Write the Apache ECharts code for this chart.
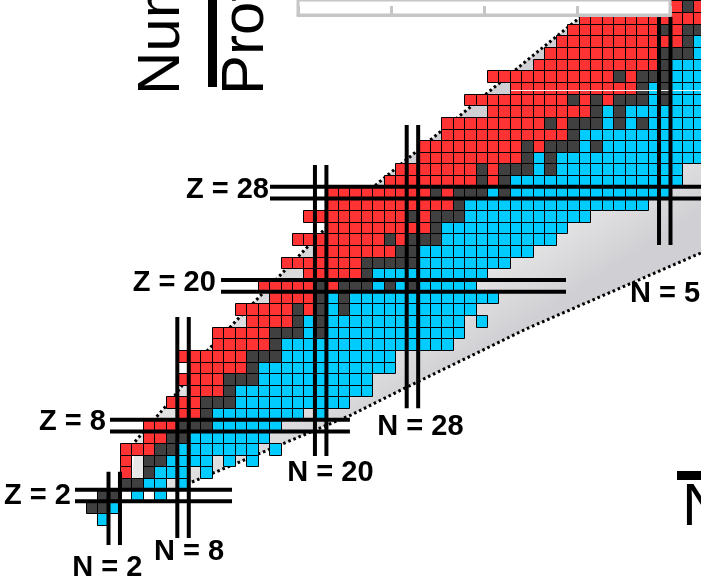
<!DOCTYPE html>
<html><head><meta charset="utf-8">
<script src="https://cdn.jsdelivr.net/npm/echarts@6/dist/echarts.min.js"></script>
<style>html,body{margin:0;padding:0;background:#fff;overflow:hidden}#c{width:701px;height:585px}</style>
</head><body><div id="c"></div>
<script>
// ---------------- DATA ----------------
// proton number of each row
const Z_VALUES = [0,1,2,3,4,5,6,7,8,9,10,11,12,13,14,15,16,17,18,19,20,21,22,23,24,25,26,27,28,29,30,31,32,33,34,35,36,37,38,39,40,41,42,43,44];
// lightest and heaviest known neutron number for each Z (as drawn)
const N_MIN = [1,0,1,3,3,3,3,5,5,8,7,9,8,9,8,11,11,14,13,16,15,19,17,20,18,21,19,21,21,26,27,29,29,31,31,35,33,37,35,39,40,41,42,43,44];
const N_MAX = [1,2,6,8,10,14,16,15,16,20,22,24,24,26,26,31,32,34,33,35,33,34,36,38,40,41,43,48,50,51,51,53,53,53,53,53,53,53,53,53,53,53,53,53,53];
// stable neutron numbers for each Z
const STABLE_N = [[],[0,1],[1,2],[3,4],[5],[5,6],[6,7],[7,8],[8,9,10],[10],[10,11,12],[12],[12,13,14],[14],[14,15,16],[16],[16,17,18,20],[18,20],[18,20,22],[20,22],[20,22,23,24,26,28],[24],[24,25,26,27,28],[27,28],[26,28,29,30],[30],[28,30,31,32],[32],[30,32,33,34,36],[34,36],[34,36,37,38,40],[38,40],[38,40,41,42,44],[42],[40,42,43,44,46,48],[44,46],[42,44,46,47,48,50],[48,50],[46,48,49,50],[50],[50,51,52,54,56],[52],[50,52,53,54,55,56,58],[],[52,54,55,56,57,58,60]];
// beta+/EC nuclides lying between stable ones  [Z, N]
const RED_INSIDE = [[18,19],[20,21],[24,27],[26,29],[28,31],[29,35],[30,35],[32,39],[34,41],[36,43],[36,45],[38,47],[42,51],[44,53]];
// elements with no stable isotope: side of the valley shown
const NO_STABLE_SIDE = {0:'minus', 43:'plus'};
// unbound / unobserved gaps inside a row  [Z, N]
const HOLES = [[2,3],[2,5],[3,7],[4,4],[4,9],[5,4],[5,11],[5,13],[6,15],[9,19],[17,33]];
// magic numbers
const MAGIC_Z = [2, 8, 20, 28];
const MAGIC_Z_FROM = [-1.42, 1.63, 11.31, 15.58];
const MAGIC_Z_TO = [12.27, 22.55, 41.39, 62];
const MAGIC_N = [2, 8, 20, 28, 50];
const MAGIC_N_FROM = [-2.25, -1.65, 5.39, 9.48, 23.5];
const MAGIC_N_TO = [4.04, 17.32, 30.37, 33.8, 43.07];
// predicted drip lines (N, Z)
const P_DRIP_N = [3.81, 7.12, 10.17, 20.11, 25.0, 37.81, 42.34, 50.0];
const P_DRIP_Z = [6.62, 10.37, 14.49, 24.62, 28.82, 39.21, 42.82, 48.95];
const N_DRIP_N = [8.78, 22.64, 27.18, 37.90, 53.15, 62];
const N_DRIP_Z = [3.16, 8.91, 11.14, 16.29, 22.82, 26.6];
// annotation texts
const LABEL_TEXT = ['Z = 2','Z = 8','Z = 20','Z = 28','N = 2','N = 8','N = 20','N = 28','N = 50'];
const LABEL_N = [-1.78, 1.27, 10.86, 15.49, 1.39, 8.52, 20.85, 28.70, 46.97];
const LABEL_Z = [1.96, 8.27, 20.28, 28.18, -4.18, -2.82, 3.97, 7.84, 19.30];
const LABEL_ALIGN = ['right','right','right','right','center','center','center','center','left'];

// ---------------- BUILD ----------------
const RED = '#ff3333', BLUE = '#00ccff', GRAY = '#404040';
const COLORS = [RED, BLUE, GRAY];
const has = (list, z, n) => list.some(p => p[0] === z && p[1] === n);
const cells = [];
Z_VALUES.forEach((z, i) => {
  const st = STABLE_N[i];
  for (let n = N_MIN[i]; n <= N_MAX[i]; n++) {
    if (has(HOLES, z, n)) continue;
    let t;
    if (st.length === 0) t = NO_STABLE_SIDE[z] === 'plus' ? 0 : 1;
    else if (st.includes(n)) t = 2;
    else if (n < Math.min(...st)) t = 0;
    else if (n > Math.max(...st)) t = 1;
    else t = has(RED_INSIDE, z, n) ? 0 : 1;
    cells.push([n, z, t]);
  }
});
const magic = [];
MAGIC_Z.forEach((v, i) => magic.push([0, v, MAGIC_Z_FROM[i], MAGIC_Z_TO[i]]));
MAGIC_N.forEach((v, i) => magic.push([1, v, MAGIC_N_FROM[i], MAGIC_N_TO[i]]));
const pDrip = P_DRIP_N.map((n, i) => [n, P_DRIP_Z[i]]);
const nDrip = N_DRIP_N.map((n, i) => [n, N_DRIP_Z[i]]);
const labels = LABEL_TEXT.map((t, i) => [LABEL_N[i], LABEL_Z[i]]);

const X_MIN = -7.96, X_MAX = 53.16, Y_MIN = -5.68, Y_MAX = 44.53;

const chart = echarts.init(document.getElementById('c'), null, {renderer: 'canvas'});
const option = {
  animation: false,
  backgroundColor: '#fff',
  grid: [
    {left: 0, right: 0, top: 0, bottom: 0},
    {left: 298, top: -40, width: 372, height: 55, show: true, backgroundColor: '#fff', borderColor: '#c6c6c6', borderWidth: 3, z: 10}
  ],
  xAxis: [
    {type: 'value', gridIndex: 0, min: X_MIN, max: X_MAX, show: false},
    {type: 'value', gridIndex: 1, min: 0, max: 4, interval: 1, z: 11,
     axisLine: {show: true, lineStyle: {color: '#c6c6c6', width: 3}},
     axisTick: {show: true, inside: true, length: 9, lineStyle: {color: '#c6c6c6', width: 3}},
     axisLabel: {show: false}, splitLine: {show: false}}
  ],
  yAxis: [
    {type: 'value', gridIndex: 0, min: Y_MIN, max: Y_MAX, show: false},
    {type: 'value', gridIndex: 1, show: false}
  ],
  series: [
    { // light grey band between the drip lines
      type: 'custom', z: 1, silent: true, data: [[0, 0]],
      renderItem: (params, api) => {
        const pts = [];
        pDrip.forEach(p => pts.push(api.coord(p)));
        pts.push(api.coord([62, 60]));
        nDrip.slice().reverse().forEach(p => pts.push(api.coord(p)));
        pts.push(api.coord([8.5, 2.5]));
        pts.push(api.coord([3.5, 2.5]));
        return {type: 'polygon', shape: {points: pts}, style: {
          fill: new echarts.graphic.LinearGradient(400, 165, 509, 335, [
            {offset: 0, color: '#d0d0d4'}, {offset: 0.25, color: '#dedee0'},
            {offset: 0.6, color: '#e8e8e8'}, {offset: 1, color: '#d0d0d4'}], true)}};
      }
    },
    {type: 'line', z: 1, data: pDrip, showSymbol: false, silent: true,
     lineStyle: {color: '#000', width: 3, type: [2.6, 2.9], cap: 'butt'}},
    {type: 'line', z: 1, data: nDrip, showSymbol: false, silent: true,
     lineStyle: {color: '#000', width: 3, type: [2.6, 2.9], cap: 'butt'}},
    { // nuclide cells
      type: 'custom', z: 2, silent: true, data: cells,
      renderItem: (params, api) => {
        const n = api.value(0), z = api.value(1), t = api.value(2);
        const a = api.coord([n - 0.5, z + 0.5]), b = api.coord([n + 0.5, z - 0.5]);
        const x0 = Math.round(a[0]), y0 = Math.round(a[1]), x1 = Math.round(b[0]), y1 = Math.round(b[1]);
        return {type: 'rect', shape: {x: x0 + 0.5, y: y0 + 0.5, width: x1 - x0, height: y1 - y0},
                style: {fill: COLORS[t], stroke: '#000', lineWidth: 1}};
      }
    },
    { // magic number double lines
      type: 'custom', z: 4, silent: true, data: magic,
      renderItem: (params, api) => {
        const kind = api.value(0), v = api.value(1), f = api.value(2), to = api.value(3);
        const children = [-0.5, 0.5].map(d => {
          if (kind === 0) {
            const p0 = api.coord([f, v + d]), p1 = api.coord([to, v + d]);
            return {type: 'rect', shape: {x: p0[0], y: p0[1] - 2, width: p1[0] - p0[0], height: 4}, style: {fill: '#000'}};
          }
          const p0 = api.coord([v + d, to]), p1 = api.coord([v + d, f]);
          return {type: 'rect', shape: {x: p0[0] - 2, y: p0[1], width: 4, height: p1[1] - p0[1]}, style: {fill: '#000'}};
        });
        return {type: 'group', children};
      }
    },
    { // magic number labels
      type: 'custom', z: 5, silent: true, data: labels,
      renderItem: (params, api) => {
        const p = api.coord([api.value(0), api.value(1)]);
        const i = params.dataIndex;
        return {type: 'text', x: p[0], y: p[1], style: {text: LABEL_TEXT[i], fill: '#000',
          font: 'bold 29px "Liberation Sans", Arial, sans-serif', textAlign: LABEL_ALIGN[i], textVerticalAlign: 'middle',
          align: LABEL_ALIGN[i], verticalAlign: 'middle'}};
      }
    }
  ],
  graphic: [
    {type: 'line', z: 3, shape: {x1: 511, y1: 90.5, x2: 701, y2: 90.5}, style: {stroke: '#f2f2f2', lineWidth: 1}},
    {type: 'text', z: 20, x: 162, y: 95, rotation: Math.PI / 2,
     style: {text: 'Number of Neutrons', fill: '#000', font: '60px "Liberation Sans", Arial, sans-serif', textAlign: 'left', textVerticalAlign: 'middle', align: 'left', verticalAlign: 'middle'}},
    {type: 'rect', z: 20, shape: {x: 208, y: -5, width: 9, height: 92}, style: {fill: '#000'}},
    {type: 'text', z: 20, x: 246.5, y: 95, rotation: Math.PI / 2,
     style: {text: 'Protons', fill: '#000', font: '60px "Liberation Sans", Arial, sans-serif', textAlign: 'left', textVerticalAlign: 'middle', align: 'left', verticalAlign: 'middle'}},
    {type: 'rect', z: 20, shape: {x: 677, y: 471, width: 30, height: 9}, style: {fill: '#000'}},
    {type: 'text', z: 20, x: 682, y: 508,
     style: {text: 'Neutrons', fill: '#000', font: '60px "Liberation Sans", Arial, sans-serif', textAlign: 'left', textVerticalAlign: 'middle', align: 'left', verticalAlign: 'middle'}}
  ]
};
chart.setOption(option);
</script>
</body></html>
